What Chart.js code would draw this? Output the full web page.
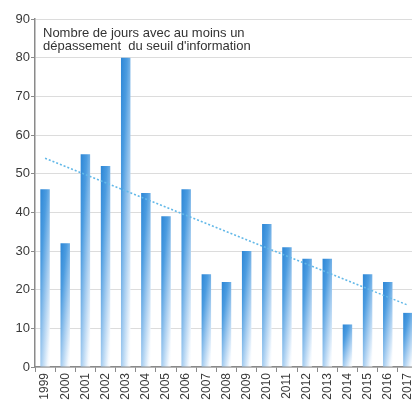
<!DOCTYPE html>
<html>
<head>
<meta charset="utf-8">
<script src="https://cdn.jsdelivr.net/npm/chart.js@4/dist/chart.umd.min.js"></script>
<style>
  html, body { margin: 0; padding: 0; background: #fff; overflow: hidden; }
  #wrap { width: 430px; height: 412px; }
</style>
</head>
<body>
<div id="wrap"><canvas id="chart-jours" width="430" height="412"></canvas></div>
<script>
const years = [
  "1999", "2000", "2001", "2002", "2003", "2004", "2005", "2006", "2007",
  "2008", "2009", "2010", "2011", "2012", "2013", "2014", "2015", "2016", "2017",
];
const daysAboveThreshold = [
  46, 32, 55, 52, 80, 45, 39, 46, 24, 22, 30, 37, 31, 28, 28, 11, 24, 22, 14,
];
// linear trend, read at both ends
const trendLine = [
  54, null, null, null, null, null, null, null, null,
  null, null, null, null, null, null, null, null, null, 16,
];
const yTicks = [0, 10, 20, 30, 40, 50, 60, 70, 80, 90];
const noteLines = [
  "Nombre de jours avec au moins un",
  "dépassement  du seuil d'information",
];

const ctxJours = document.querySelector("#chart-jours").getContext("2d");
const barPct = 0.47;

// each bar: dark blue on the left, fading to white to the right and downwards
function barGradient(context) {
  const chart = context.chart;
  const xs = chart.scales.x;
  const ys = chart.scales.y;
  if (!chart.chartArea || !xs || !ys) return "#3a8fda";
  const i = context.dataIndex;
  const v = context.raw;
  const cx = xs.getPixelForValue(i);
  const w = (xs.getPixelForValue(1) - xs.getPixelForValue(0)) * barPct;
  const left = cx - w / 2;
  const top = ys.getPixelForValue(v);
  const h = ys.getPixelForValue(0) - top;
  const gx = 0.42 / w;
  const gy = 0.58 / h;
  const n = gx * gx + gy * gy;
  const g = ctxJours.createLinearGradient(left, top, left + gx / n, top + gy / n);
  g.addColorStop(0, "#2c86d6");
  g.addColorStop(0.28, "#4c9ce0");
  g.addColorStop(0.6, "#a6cdf0");
  g.addColorStop(0.9, "#f4f9fe");
  g.addColorStop(1, "#ffffff");
  return g;
}

const notePlugin = {
  id: "note",
  afterDraw(chart) {
    const c = chart.ctx;
    const a = chart.chartArea;
    c.save();
    c.font = "13px 'Liberation Sans', Arial, sans-serif";
    c.fillStyle = "#333";
    c.textBaseline = "middle";
    noteLines.forEach((t, k) => c.fillText(t, a.left + 8, a.top + 14 + k * 13.5));
    c.restore();
  },
};

new Chart(ctxJours, {
  type: "bar",
  data: {
    labels: years,
    datasets: [
      {
        type: "line",
        data: trendLine,
        borderColor: "#62b8e8",
        borderWidth: 1.5,
        borderDash: [2, 2],
        pointRadius: 0,
        spanGaps: true,
        fill: false,
        order: 0,
      },
      {
        data: daysAboveThreshold,
        backgroundColor: barGradient,
        borderWidth: 0,
        barPercentage: barPct,
        categoryPercentage: 1,
        order: 1,
      },
    ],
  },
  options: {
    responsive: false,
    animation: false,
    devicePixelRatio: 1,
    layout: { padding: { top: 19, right: 12, left: 0, bottom: 0 } },
    plugins: {
      legend: { display: false },
      tooltip: { enabled: false },
    },
    scales: {
      y: {
        min: 0,
        max: 90,
        afterBuildTicks: (axis) => {
          axis.ticks = yTicks.map((v) => ({ value: v }));
        },
        afterFit: (axis) => {
          axis.width = 35;
        },
        grid: {
          color: "#dcdcdc",
          lineWidth: 1,
          tickLength: 4,
          tickColor: "#8a8a8a",
        },
        border: { color: "#8a8a8a", width: 1.5 },
        ticks: {
          padding: 1,
          color: "#3a3a3a",
          font: { family: "'Liberation Sans', Arial, sans-serif", size: 13 },
        },
      },
      x: {
        offset: true,
        afterFit: (axis) => {
          axis.height = 45;
        },
        grid: {
          offset: true,
          drawOnChartArea: false,
          tickLength: 5,
          tickColor: "#8a8a8a",
        },
        border: { color: "#8a8a8a", width: 1.5 },
        ticks: {
          minRotation: 90,
          maxRotation: 90,
          padding: 1,
          autoSkip: false,
          color: "#3a3a3a",
          font: { family: "'Liberation Sans', Arial, sans-serif", size: 12 },
        },
      },
    },
  },
  plugins: [notePlugin],
});
</script>
</body>
</html>
